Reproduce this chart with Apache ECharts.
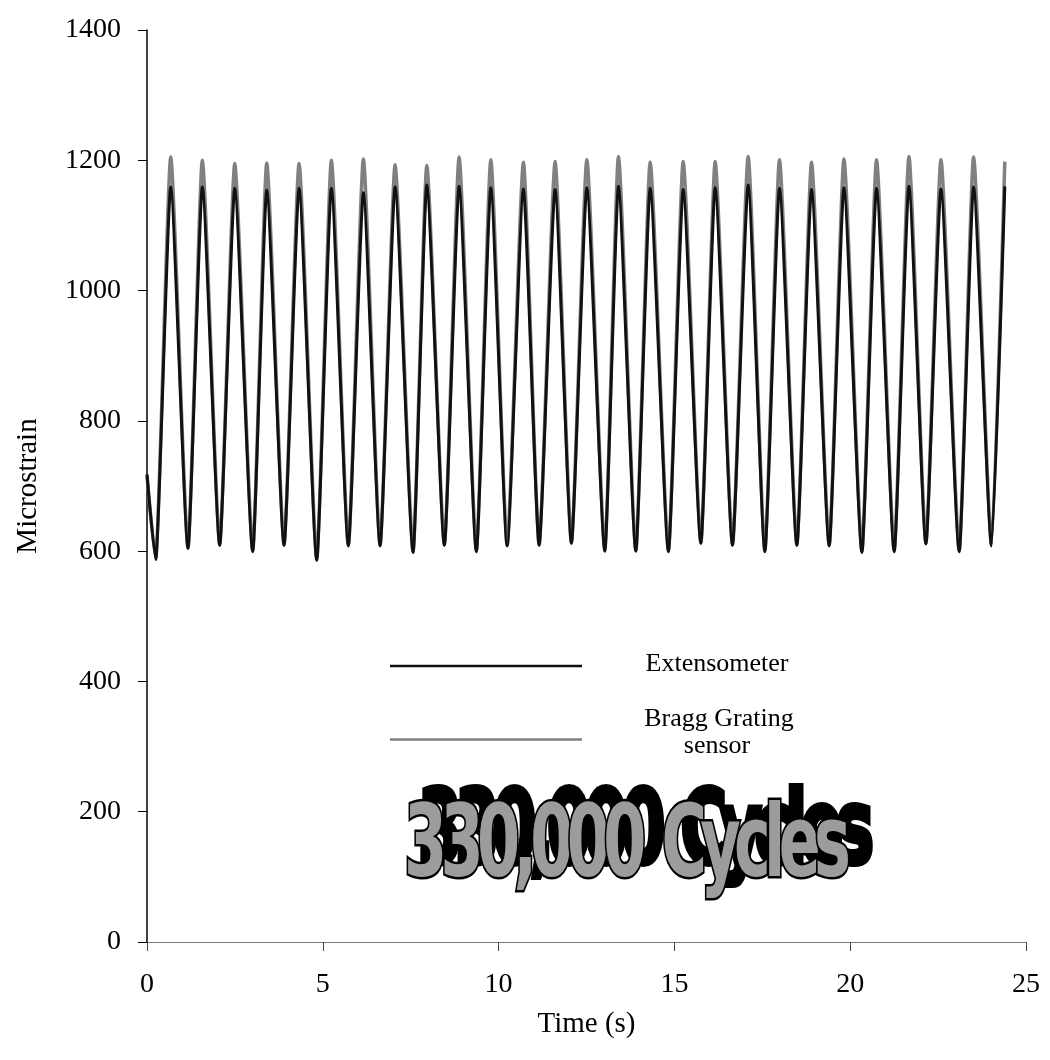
<!DOCTYPE html>
<html>
<head>
<meta charset="utf-8">
<script src="https://cdn.jsdelivr.net/npm/echarts@6/dist/echarts.min.js"></script>
<style>
  html, body { margin: 0; padding: 0; background: #fff; }
  #chart { width: 1050px; height: 1060px; }
</style>
</head>
<body>
<div id="chart"></div>
<script>
// Sample times (s): start, then alternating troughs and peaks of the loading cycles
const timeS = [
  0,
  0.248, 0.674, 1.166, 1.573, 2.068, 2.495, 3.007, 3.405, 3.898, 4.324,
  4.828, 5.243, 5.727, 6.154, 6.629, 7.055, 7.568, 7.957, 8.458, 8.876,
  9.368, 9.778, 10.243, 10.706, 11.152, 11.607, 12.071, 12.509, 13.021, 13.408,
  13.903, 14.310, 14.831, 15.249, 15.753, 16.159, 16.652, 17.098, 17.573, 17.988,
  18.484, 18.899, 19.403, 19.821, 20.333, 20.748, 21.252, 21.670, 22.153, 22.580,
  23.101, 23.508, 24.020, 24.397
];

// Extensometer strain (microstrain) at those times
const extensometer = [
  718,
  587, 1159, 604, 1159, 609, 1157, 599, 1154, 609, 1157,
  586, 1157, 608, 1150, 608, 1159, 598, 1162, 609, 1160,
  599, 1158, 608, 1156, 609, 1155, 612, 1158, 600, 1160,
  600, 1157, 599, 1155, 612, 1158, 609, 1162, 599, 1157,
  609, 1155, 608, 1158, 598, 1157, 599, 1160, 611, 1156,
  599, 1159, 608, 1160
];

// Bragg grating sensor strain (microstrain) at those times
const braggSensor = [
  716,
  589, 1205, 605, 1200, 610, 1195, 601, 1196, 610, 1195,
  588, 1200, 609, 1202, 609, 1193, 600, 1192, 610, 1205,
  601, 1201, 609, 1197, 610, 1198, 613, 1201, 602, 1206,
  601, 1197, 601, 1198, 613, 1198, 610, 1206, 601, 1201,
  610, 1197, 609, 1202, 600, 1201, 601, 1206, 612, 1201,
  601, 1205, 609, 1198
];

const xTickValues = [0, 5, 10, 15, 20, 25];
const yTickValues = [0, 200, 400, 600, 800, 1000, 1200, 1400];

const seriesNames = ['Extensometer', 'Bragg Grating sensor'];
const banner = '330,000 Cycles';

const serif = '"Liberation Serif", "Times New Roman", serif';
const heavy = '"DejaVu Sans", "Liberation Sans", sans-serif';

const extData = timeS.map((t, i) => [t, extensometer[i]]);
const braggData = timeS.map((t, i) => [t, braggSensor[i]]);

// Banner lettering: condensed glyphs set tightly so neighbours touch,
// while the word space keeps its full width
const bannerSize = 100;
const bannerFont = 'bold ' + bannerSize + 'px ' + heavy;
const glyphScale = 0.62;
const bannerBox = 447;
const mctx = document.createElement('canvas').getContext('2d');
mctx.font = bannerFont;
const bannerChars = Array.from(banner);
const glyphW = bannerChars.map(ch => mctx.measureText(ch).width * glyphScale);
const tightCount = bannerChars.filter(ch => ch !== ' ').length - 1;
const squeeze = (glyphW.reduce((a, b) => a + b, 0) - bannerBox) / tightCount;
const glyphX = [];
glyphW.reduce((acc, w, i) => {
  glyphX.push(acc);
  return acc + (bannerChars[i] === ' ' ? w : w - squeeze);
}, 0);

function bannerLayer(x0, y0, grow, fill, lw, z) {
  return bannerChars.map((ch, i) => ({
    type: 'text',
    x: x0 + glyphX[i] * grow,
    y: y0,
    scaleX: glyphScale * grow,
    scaleY: grow,
    style: { text: ch, font: bannerFont, fill: fill, stroke: '#000', lineWidth: lw, align: 'left', verticalAlign: 'middle' },
    z: z
  }));
}

const plainLabel = v => String(v);

const chart = echarts.init(document.getElementById('chart'), null, { renderer: 'canvas' });

chart.setOption({
  animation: false,
  backgroundColor: '#ffffff',
  grid: { left: 147, right: 24, top: 30, bottom: 118, outerBoundsMode: 'none' },
  xAxis: {
    type: 'value',
    min: xTickValues[0],
    max: xTickValues[xTickValues.length - 1],
    interval: xTickValues[1] - xTickValues[0],
    name: 'Time (s)',
    nameLocation: 'middle',
    nameGap: 68,
    nameTextStyle: { fontFamily: serif, fontSize: 29, color: '#000' },
    axisLine: { show: true, onZero: false, lineStyle: { color: '#7a7a7a', width: 1 } },
    axisTick: { show: true, inside: false, length: 9, lineStyle: { color: '#444', width: 1 } },
    axisLabel: { margin: 29, fontFamily: serif, fontSize: 28, color: '#000', formatter: plainLabel },
    splitLine: { show: false }
  },
  yAxis: {
    type: 'value',
    min: yTickValues[0],
    max: yTickValues[yTickValues.length - 1],
    interval: yTickValues[1] - yTickValues[0],
    name: 'Microstrain',
    nameLocation: 'middle',
    nameGap: 104,
    nameTextStyle: { fontFamily: serif, fontSize: 29, color: '#000' },
    axisLine: { show: true, onZero: false, lineStyle: { color: '#000', width: 1.5 } },
    axisTick: { show: true, inside: false, length: 9, lineStyle: { color: '#000', width: 1 } },
    axisLabel: { margin: 26, fontFamily: serif, fontSize: 28, color: '#000', formatter: plainLabel },
    splitLine: { show: false }
  },
  series: [
    {
      name: seriesNames[1],
      type: 'line',
      data: braggData,
      smooth: 0.18,
      smoothMonotone: 'x',
      symbol: 'none',
      lineStyle: { color: '#808080', width: 3.5 },
      z: 2
    },
    {
      name: seriesNames[0],
      type: 'line',
      data: extData,
      smooth: 0.18,
      smoothMonotone: 'x',
      symbol: 'none',
      lineStyle: { color: '#111', width: 3 },
      z: 3
    }
  ],
  graphic: [
    // key
    { type: 'line', shape: { x1: 390, y1: 666, x2: 582, y2: 666 }, style: { stroke: '#111', lineWidth: 2.5 }, z: 10 },
    { type: 'line', shape: { x1: 390, y1: 739.5, x2: 582, y2: 739.5 }, style: { stroke: '#808080', lineWidth: 2.5 }, z: 10 },
    { type: 'text', x: 717, y: 664, style: { text: seriesNames[0], font: '26px ' + serif, fill: '#000', align: 'center', verticalAlign: 'middle' }, z: 10 },
    { type: 'text', x: 719, y: 719, style: { text: 'Bragg Grating', font: '26px ' + serif, fill: '#000', align: 'center', verticalAlign: 'middle' }, z: 10 },
    { type: 'text', x: 717, y: 746, style: { text: 'sensor', font: '26px ' + serif, fill: '#000', align: 'center', verticalAlign: 'middle' }, z: 10 }
  ]
    // banner: dark shadow copy behind, then the grey face
    .concat(bannerLayer(418, 836, 1.02, '#000', 6, 11))
    .concat(bannerLayer(404, 850, 1, '#9c9c9c', 5, 12))
});
</script>
</body>
</html>
